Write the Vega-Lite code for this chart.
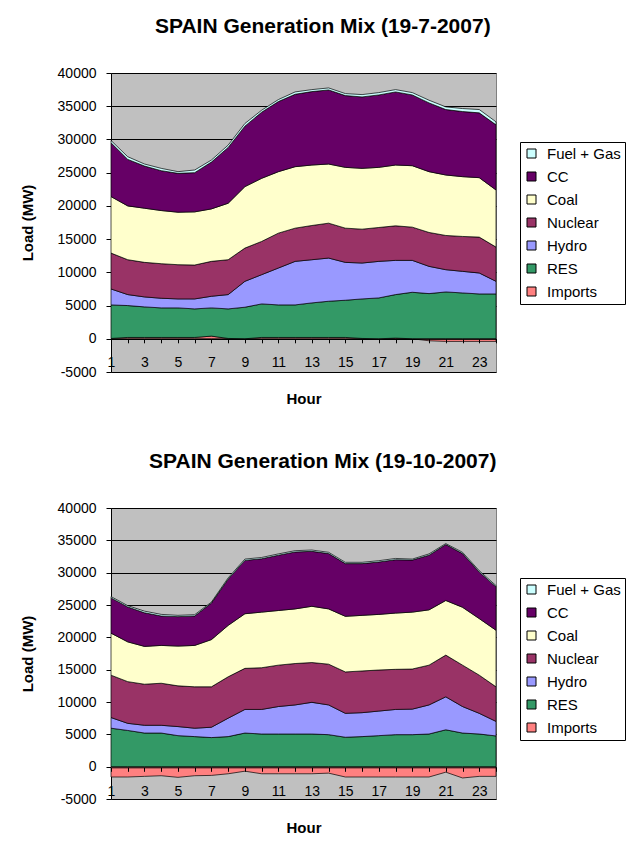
{
  "$schema": "https://vega.github.io/schema/vega-lite/v6.json",
  "background": "white",
  "padding": {"left": 19, "top": 15, "right": 2, "bottom": 2},
  "spacing": 42,
  "datasets": {
    "jul": [
      {"h":1,"s":"Imports","v":50},{"h":2,"s":"Imports","v":200},{"h":3,"s":"Imports","v":200},{"h":4,"s":"Imports","v":200},{"h":5,"s":"Imports","v":200},{"h":6,"s":"Imports","v":200},{"h":7,"s":"Imports","v":400},{"h":8,"s":"Imports","v":50},{"h":9,"s":"Imports","v":0},{"h":10,"s":"Imports","v":200},{"h":11,"s":"Imports","v":200},{"h":12,"s":"Imports","v":200},{"h":13,"s":"Imports","v":200},{"h":14,"s":"Imports","v":200},{"h":15,"s":"Imports","v":200},{"h":16,"s":"Imports","v":50},{"h":17,"s":"Imports","v":-100},{"h":18,"s":"Imports","v":100},{"h":19,"s":"Imports","v":0},{"h":20,"s":"Imports","v":-300},{"h":21,"s":"Imports","v":-400},{"h":22,"s":"Imports","v":-400},{"h":23,"s":"Imports","v":-400},{"h":24,"s":"Imports","v":-400},
      {"h":1,"s":"RES","v":5050},{"h":2,"s":"RES","v":4800},{"h":3,"s":"RES","v":4600},{"h":4,"s":"RES","v":4450},{"h":5,"s":"RES","v":4450},{"h":6,"s":"RES","v":4300},{"h":7,"s":"RES","v":4250},{"h":8,"s":"RES","v":4450},{"h":9,"s":"RES","v":4750},{"h":10,"s":"RES","v":5050},{"h":11,"s":"RES","v":4900},{"h":12,"s":"RES","v":4900},{"h":13,"s":"RES","v":5200},{"h":14,"s":"RES","v":5450},{"h":15,"s":"RES","v":5600},{"h":16,"s":"RES","v":5950},{"h":17,"s":"RES","v":6150},{"h":18,"s":"RES","v":6550},{"h":19,"s":"RES","v":7000},{"h":20,"s":"RES","v":6800},{"h":21,"s":"RES","v":7050},{"h":22,"s":"RES","v":6900},{"h":23,"s":"RES","v":6750},{"h":24,"s":"RES","v":6750},
      {"h":1,"s":"Hydro","v":2400},{"h":2,"s":"Hydro","v":1650},{"h":3,"s":"Hydro","v":1500},{"h":4,"s":"Hydro","v":1450},{"h":5,"s":"Hydro","v":1350},{"h":6,"s":"Hydro","v":1500},{"h":7,"s":"Hydro","v":1750},{"h":8,"s":"Hydro","v":2150},{"h":9,"s":"Hydro","v":3900},{"h":10,"s":"Hydro","v":4400},{"h":11,"s":"Hydro","v":5550},{"h":12,"s":"Hydro","v":6550},{"h":13,"s":"Hydro","v":6500},{"h":14,"s":"Hydro","v":6500},{"h":15,"s":"Hydro","v":5700},{"h":16,"s":"Hydro","v":5400},{"h":17,"s":"Hydro","v":5500},{"h":18,"s":"Hydro","v":5150},{"h":19,"s":"Hydro","v":4800},{"h":20,"s":"Hydro","v":4100},{"h":21,"s":"Hydro","v":3350},{"h":22,"s":"Hydro","v":3250},{"h":23,"s":"Hydro","v":3150},{"h":24,"s":"Hydro","v":1900},
      {"h":1,"s":"Nuclear","v":5400},{"h":2,"s":"Nuclear","v":5250},{"h":3,"s":"Nuclear","v":5200},{"h":4,"s":"Nuclear","v":5200},{"h":5,"s":"Nuclear","v":5150},{"h":6,"s":"Nuclear","v":5100},{"h":7,"s":"Nuclear","v":5250},{"h":8,"s":"Nuclear","v":5250},{"h":9,"s":"Nuclear","v":5000},{"h":10,"s":"Nuclear","v":5000},{"h":11,"s":"Nuclear","v":5250},{"h":12,"s":"Nuclear","v":5000},{"h":13,"s":"Nuclear","v":5150},{"h":14,"s":"Nuclear","v":5250},{"h":15,"s":"Nuclear","v":5150},{"h":16,"s":"Nuclear","v":5100},{"h":17,"s":"Nuclear","v":5100},{"h":18,"s":"Nuclear","v":5200},{"h":19,"s":"Nuclear","v":5000},{"h":20,"s":"Nuclear","v":5100},{"h":21,"s":"Nuclear","v":5150},{"h":22,"s":"Nuclear","v":5250},{"h":23,"s":"Nuclear","v":5400},{"h":24,"s":"Nuclear","v":5150},
      {"h":1,"s":"Coal","v":8500},{"h":2,"s":"Coal","v":8100},{"h":3,"s":"Coal","v":8150},{"h":4,"s":"Coal","v":8000},{"h":5,"s":"Coal","v":7900},{"h":6,"s":"Coal","v":8000},{"h":7,"s":"Coal","v":7900},{"h":8,"s":"Coal","v":8500},{"h":9,"s":"Coal","v":9250},{"h":10,"s":"Coal","v":9500},{"h":11,"s":"Coal","v":9250},{"h":12,"s":"Coal","v":9250},{"h":13,"s":"Coal","v":9100},{"h":14,"s":"Coal","v":8900},{"h":15,"s":"Coal","v":9150},{"h":16,"s":"Coal","v":9150},{"h":17,"s":"Coal","v":9050},{"h":18,"s":"Coal","v":9150},{"h":19,"s":"Coal","v":9250},{"h":20,"s":"Coal","v":9150},{"h":21,"s":"Coal","v":9100},{"h":22,"s":"Coal","v":9000},{"h":23,"s":"Coal","v":8950},{"h":24,"s":"Coal","v":8600},
      {"h":1,"s":"CC","v":8100},{"h":2,"s":"CC","v":7000},{"h":3,"s":"CC","v":6350},{"h":4,"s":"CC","v":6000},{"h":5,"s":"CC","v":5850},{"h":6,"s":"CC","v":5900},{"h":7,"s":"CC","v":7050},{"h":8,"s":"CC","v":8400},{"h":9,"s":"CC","v":9100},{"h":10,"s":"CC","v":9950},{"h":11,"s":"CC","v":10550},{"h":12,"s":"CC","v":10900},{"h":13,"s":"CC","v":11050},{"h":14,"s":"CC","v":11150},{"h":15,"s":"CC","v":10800},{"h":16,"s":"CC","v":10750},{"h":17,"s":"CC","v":10900},{"h":18,"s":"CC","v":11000},{"h":19,"s":"CC","v":10650},{"h":20,"s":"CC","v":10350},{"h":21,"s":"CC","v":9850},{"h":22,"s":"CC","v":9800},{"h":23,"s":"CC","v":9750},{"h":24,"s":"CC","v":9800},
      {"h":1,"s":"Fuel + Gas","v":350},{"h":2,"s":"Fuel + Gas","v":400},{"h":3,"s":"Fuel + Gas","v":300},{"h":4,"s":"Fuel + Gas","v":350},{"h":5,"s":"Fuel + Gas","v":250},{"h":6,"s":"Fuel + Gas","v":400},{"h":7,"s":"Fuel + Gas","v":300},{"h":8,"s":"Fuel + Gas","v":350},{"h":9,"s":"Fuel + Gas","v":400},{"h":10,"s":"Fuel + Gas","v":300},{"h":11,"s":"Fuel + Gas","v":300},{"h":12,"s":"Fuel + Gas","v":350},{"h":13,"s":"Fuel + Gas","v":300},{"h":14,"s":"Fuel + Gas","v":300},{"h":15,"s":"Fuel + Gas","v":300},{"h":16,"s":"Fuel + Gas","v":350},{"h":17,"s":"Fuel + Gas","v":350},{"h":18,"s":"Fuel + Gas","v":350},{"h":19,"s":"Fuel + Gas","v":350},{"h":20,"s":"Fuel + Gas","v":400},{"h":21,"s":"Fuel + Gas","v":400},{"h":22,"s":"Fuel + Gas","v":450},{"h":23,"s":"Fuel + Gas","v":500},{"h":24,"s":"Fuel + Gas","v":450}
    ],
    "oct": [
      {"h":1,"s":"Imports","v":-1600},{"h":2,"s":"Imports","v":-1600},{"h":3,"s":"Imports","v":-1500},{"h":4,"s":"Imports","v":-1400},{"h":5,"s":"Imports","v":-1650},{"h":6,"s":"Imports","v":-1400},{"h":7,"s":"Imports","v":-1350},{"h":8,"s":"Imports","v":-1100},{"h":9,"s":"Imports","v":-700},{"h":10,"s":"Imports","v":-1100},{"h":11,"s":"Imports","v":-1100},{"h":12,"s":"Imports","v":-1100},{"h":13,"s":"Imports","v":-1100},{"h":14,"s":"Imports","v":-1000},{"h":15,"s":"Imports","v":-1600},{"h":16,"s":"Imports","v":-1600},{"h":17,"s":"Imports","v":-1600},{"h":18,"s":"Imports","v":-1600},{"h":19,"s":"Imports","v":-1600},{"h":20,"s":"Imports","v":-1600},{"h":21,"s":"Imports","v":-850},{"h":22,"s":"Imports","v":-1750},{"h":23,"s":"Imports","v":-1500},{"h":24,"s":"Imports","v":-1500},
      {"h":1,"s":"RES","v":5950},{"h":2,"s":"RES","v":5600},{"h":3,"s":"RES","v":5200},{"h":4,"s":"RES","v":5200},{"h":5,"s":"RES","v":4800},{"h":6,"s":"RES","v":4650},{"h":7,"s":"RES","v":4500},{"h":8,"s":"RES","v":4650},{"h":9,"s":"RES","v":5200},{"h":10,"s":"RES","v":5050},{"h":11,"s":"RES","v":5050},{"h":12,"s":"RES","v":5050},{"h":13,"s":"RES","v":5050},{"h":14,"s":"RES","v":4950},{"h":15,"s":"RES","v":4550},{"h":16,"s":"RES","v":4650},{"h":17,"s":"RES","v":4800},{"h":18,"s":"RES","v":4950},{"h":19,"s":"RES","v":4950},{"h":20,"s":"RES","v":5050},{"h":21,"s":"RES","v":5700},{"h":22,"s":"RES","v":5200},{"h":23,"s":"RES","v":5050},{"h":24,"s":"RES","v":4750},
      {"h":1,"s":"Hydro","v":1650},{"h":2,"s":"Hydro","v":1100},{"h":3,"s":"Hydro","v":1200},{"h":4,"s":"Hydro","v":1200},{"h":5,"s":"Hydro","v":1400},{"h":6,"s":"Hydro","v":1300},{"h":7,"s":"Hydro","v":1600},{"h":8,"s":"Hydro","v":2850},{"h":9,"s":"Hydro","v":3650},{"h":10,"s":"Hydro","v":3800},{"h":11,"s":"Hydro","v":4250},{"h":12,"s":"Hydro","v":4500},{"h":13,"s":"Hydro","v":4900},{"h":14,"s":"Hydro","v":4600},{"h":15,"s":"Hydro","v":3700},{"h":16,"s":"Hydro","v":3700},{"h":17,"s":"Hydro","v":3800},{"h":18,"s":"Hydro","v":3900},{"h":19,"s":"Hydro","v":3950},{"h":20,"s":"Hydro","v":4500},{"h":21,"s":"Hydro","v":5100},{"h":22,"s":"Hydro","v":4100},{"h":23,"s":"Hydro","v":3200},{"h":24,"s":"Hydro","v":2250},
      {"h":1,"s":"Nuclear","v":6550},{"h":2,"s":"Nuclear","v":6450},{"h":3,"s":"Nuclear","v":6350},{"h":4,"s":"Nuclear","v":6500},{"h":5,"s":"Nuclear","v":6300},{"h":6,"s":"Nuclear","v":6400},{"h":7,"s":"Nuclear","v":6250},{"h":8,"s":"Nuclear","v":6400},{"h":9,"s":"Nuclear","v":6350},{"h":10,"s":"Nuclear","v":6450},{"h":11,"s":"Nuclear","v":6400},{"h":12,"s":"Nuclear","v":6400},{"h":13,"s":"Nuclear","v":6150},{"h":14,"s":"Nuclear","v":6300},{"h":15,"s":"Nuclear","v":6400},{"h":16,"s":"Nuclear","v":6450},{"h":17,"s":"Nuclear","v":6350},{"h":18,"s":"Nuclear","v":6200},{"h":19,"s":"Nuclear","v":6200},{"h":20,"s":"Nuclear","v":6150},{"h":21,"s":"Nuclear","v":6450},{"h":22,"s":"Nuclear","v":6400},{"h":23,"s":"Nuclear","v":5900},{"h":24,"s":"Nuclear","v":5350},
      {"h":1,"s":"Coal","v":6500},{"h":2,"s":"Coal","v":6150},{"h":3,"s":"Coal","v":5850},{"h":4,"s":"Coal","v":5850},{"h":5,"s":"Coal","v":6150},{"h":6,"s":"Coal","v":6400},{"h":7,"s":"Coal","v":7300},{"h":8,"s":"Coal","v":7950},{"h":9,"s":"Coal","v":8450},{"h":10,"s":"Coal","v":8600},{"h":11,"s":"Coal","v":8450},{"h":12,"s":"Coal","v":8450},{"h":13,"s":"Coal","v":8700},{"h":14,"s":"Coal","v":8550},{"h":15,"s":"Coal","v":8600},{"h":16,"s":"Coal","v":8600},{"h":17,"s":"Coal","v":8600},{"h":18,"s":"Coal","v":8700},{"h":19,"s":"Coal","v":8800},{"h":20,"s":"Coal","v":8550},{"h":21,"s":"Coal","v":8450},{"h":22,"s":"Coal","v":8950},{"h":23,"s":"Coal","v":8750},{"h":24,"s":"Coal","v":8750},
      {"h":1,"s":"CC","v":5450},{"h":2,"s":"CC","v":5400},{"h":3,"s":"CC","v":5200},{"h":4,"s":"CC","v":4550},{"h":5,"s":"CC","v":4550},{"h":6,"s":"CC","v":4550},{"h":7,"s":"CC","v":5650},{"h":8,"s":"CC","v":7150},{"h":9,"s":"CC","v":8250},{"h":10,"s":"CC","v":8250},{"h":11,"s":"CC","v":8550},{"h":12,"s":"CC","v":8800},{"h":13,"s":"CC","v":8500},{"h":14,"s":"CC","v":8550},{"h":15,"s":"CC","v":8150},{"h":16,"s":"CC","v":8000},{"h":17,"s":"CC","v":8100},{"h":18,"s":"CC","v":8250},{"h":19,"s":"CC","v":8050},{"h":20,"s":"CC","v":8450},{"h":21,"s":"CC","v":8650},{"h":22,"s":"CC","v":8300},{"h":23,"s":"CC","v":7200},{"h":24,"s":"CC","v":6700},
      {"h":1,"s":"Fuel + Gas","v":200},{"h":2,"s":"Fuel + Gas","v":200},{"h":3,"s":"Fuel + Gas","v":250},{"h":4,"s":"Fuel + Gas","v":250},{"h":5,"s":"Fuel + Gas","v":200},{"h":6,"s":"Fuel + Gas","v":200},{"h":7,"s":"Fuel + Gas","v":150},{"h":8,"s":"Fuel + Gas","v":200},{"h":9,"s":"Fuel + Gas","v":200},{"h":10,"s":"Fuel + Gas","v":200},{"h":11,"s":"Fuel + Gas","v":200},{"h":12,"s":"Fuel + Gas","v":200},{"h":13,"s":"Fuel + Gas","v":200},{"h":14,"s":"Fuel + Gas","v":200},{"h":15,"s":"Fuel + Gas","v":200},{"h":16,"s":"Fuel + Gas","v":200},{"h":17,"s":"Fuel + Gas","v":200},{"h":18,"s":"Fuel + Gas","v":200},{"h":19,"s":"Fuel + Gas","v":150},{"h":20,"s":"Fuel + Gas","v":200},{"h":21,"s":"Fuel + Gas","v":150},{"h":22,"s":"Fuel + Gas","v":200},{"h":23,"s":"Fuel + Gas","v":200},{"h":24,"s":"Fuel + Gas","v":200}
    ]
  },
  "vconcat": [
    {
      "title": "SPAIN Generation Mix (19-7-2007)",
      "data": {"name": "jul"},
      "transform": [{"calculate": "indexof(['Imports','RES','Hydro','Nuclear','Coal','CC','Fuel + Gas'], datum.s)", "as": "k"}],
      "width": 385,
      "height": 299,
      "mark": {"type": "area", "stroke": "black", "strokeWidth": 0.7},
      "encoding": {
        "x": {"field": "h", "type": "quantitative", "title": "Hour",
          "scale": {"domain": [1, 24], "nice": false, "zero": false},
          "axis": {"values": [1,2,3,4,5,6,7,8,9,10,11,12,13,14,15,16,17,18,19,20,21,22,23,24],
            "labelExpr": "datum.value % 2 == 1 ? datum.label : ''", "labelFlush": false, "offset": -33.2, "zindex": 1}},
        "y": {"field": "v", "type": "quantitative", "stack": "zero", "title": "Load (MW)",
          "scale": {"domain": [-5000, 40000], "nice": false, "zero": false},
          "axis": {"values": [-5000,0,5000,10000,15000,20000,25000,30000,35000,40000], "labelExpr": "datum.value < 0 ? '-' + abs(datum.value) : '' + datum.value"}},
        "order": {"field": "k", "type": "quantitative", "sort": "ascending"},
        "color": {"field": "s", "type": "nominal",
          "sort": ["Fuel + Gas", "CC", "Coal", "Nuclear", "Hydro", "RES", "Imports"],
          "scale": {"range": ["#CCFFFF", "#660066", "#FFFFCC", "#993366", "#9999FF", "#339966", "#FF8080"]},
          "legend": {"orient": "none", "legendX": 409, "legendY": 69}}
      }
    },
    {
      "title": "SPAIN Generation Mix (19-10-2007)",
      "data": {"name": "oct"},
      "transform": [{"calculate": "indexof(['Imports','RES','Hydro','Nuclear','Coal','CC','Fuel + Gas'], datum.s)", "as": "k"}],
      "width": 385,
      "height": 291,
      "mark": {"type": "area", "stroke": "black", "strokeWidth": 0.7},
      "encoding": {
        "x": {"field": "h", "type": "quantitative", "title": "Hour",
          "scale": {"domain": [1, 24], "nice": false, "zero": false},
          "axis": {"values": [1,2,3,4,5,6,7,8,9,10,11,12,13,14,15,16,17,18,19,20,21,22,23,24],
            "labelExpr": "datum.value % 2 == 1 ? datum.label : ''", "labelFlush": false, "offset": -31.7, "zindex": 1}},
        "y": {"field": "v", "type": "quantitative", "stack": "zero", "title": "Load (MW)",
          "scale": {"domain": [-5000, 40000], "nice": false, "zero": false},
          "axis": {"values": [-5000,0,5000,10000,15000,20000,25000,30000,35000,40000], "labelExpr": "datum.value < 0 ? '-' + abs(datum.value) : '' + datum.value"}},
        "order": {"field": "k", "type": "quantitative", "sort": "ascending"},
        "color": {"field": "s", "type": "nominal",
          "sort": ["Fuel + Gas", "CC", "Coal", "Nuclear", "Hydro", "RES", "Imports"],
          "scale": {"range": ["#CCFFFF", "#660066", "#FFFFCC", "#993366", "#9999FF", "#339966", "#FF8080"]},
          "legend": {"orient": "none", "legendX": 409, "legendY": 70}}
      }
    }
  ],
  "resolve": {"scale": {"color": "independent"}, "legend": {"color": "independent"}},
  "config": {
    "font": "Liberation Sans",
    "view": {"fill": "#C0C0C0", "stroke": "#808080", "strokeWidth": 1},
    "title": {"fontSize": 21, "fontWeight": "bold", "color": "black", "frame": "bounds", "anchor": "middle", "offset": 29},
    "axis": {"labelColor": "black", "labelFontSize": 14, "titleFontSize": 15, "titleFontWeight": "bold", "titleColor": "black", "domainColor": "black", "tickColor": "black", "domainWidth": 1, "tickWidth": 1},
    "axisY": {"gridColor": "black", "gridOpacity": 1, "gridWidth": 1, "tickSize": 5, "labelPadding": 10, "titlePadding": 22},
    "axisX": {"grid": false, "tickSize": 4, "labelPadding": 13, "titlePadding": 22, "labelAngle": 0},
    "legend": {"title": null, "strokeColor": "black", "fillColor": "white", "padding": 4, "rowPadding": 7, "symbolType": "square", "symbolSize": 81, "symbolStrokeColor": "black", "symbolStrokeWidth": 1, "labelFontSize": 15, "labelColor": "black", "labelOffset": 8, "symbolOpacity": 1, "cornerRadius": 0}
  }
}
